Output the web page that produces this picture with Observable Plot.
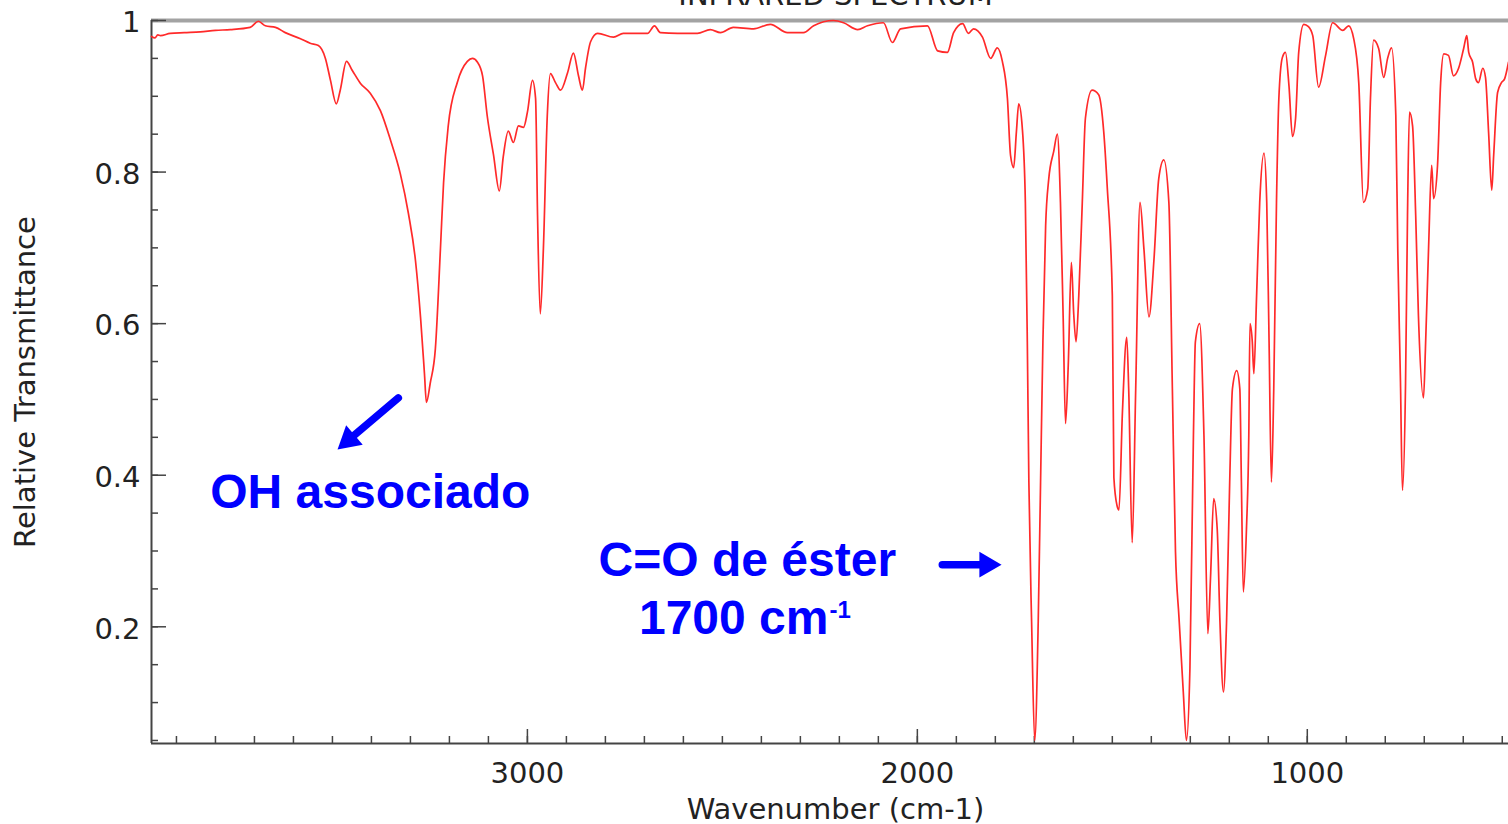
<!DOCTYPE html>
<html>
<head>
<meta charset="utf-8">
<script src="https://cdn.jsdelivr.net/npm/d3@7"></script>
<script src="https://cdn.jsdelivr.net/npm/@observablehq/plot@0.6"></script>
<style>
  html, body { margin: 0; padding: 0; background: #fff; overflow: hidden; }
  #chart svg { display: block; }
  #chart svg text.dv { letter-spacing: 0.6px; }
</style>
</head>
<body>
<div id="chart"></div>
<script>
// ---- Data ----
const wavenumber = [3964,3955,3948,3941,3916,3880,3839,3800,3762,3711,3690,3672,3646,3621,3582,3557,3536,3518,3505,3490,3480,3464,3449,3428,3403,3377,3351,3326,3305,3287,3274,3264,3259,3249,3236,3223,3215,3203,3180,3154,3141,3128,3115,3103,3087,3072,3062,3049,3036,3023,3010,3000,2987,2979,2974,2967,2959,2949,2941,2928,2915,2897,2882,2869,2859,2851,2838,2820,2779,2754,2692,2674,2659,2615,2564,2531,2505,2472,2420,2377,2333,2292,2266,2215,2189,2153,2128,2087,2064,2043,1974,1948,1923,1907,1884,1869,1856,1833,1812,1795,1782,1769,1761,1753,1746,1740,1731,1723,1718,1714,1707,1699,1690,1684,1678,1671,1663,1650,1641,1633,1626,1620,1613,1605,1599,1593,1586,1577,1569,1552,1535,1522,1513,1500,1496,1488,1483,1474,1463,1458,1449,1440,1429,1419,1406,1393,1381,1368,1355,1346,1338,1329,1318,1310,1301,1292,1287,1276,1265,1255,1248,1240,1231,1224,1215,1207,1199,1192,1181,1173,1169,1164,1156,1150,1147,1141,1137,1130,1122,1111,1104,1098,1092,1086,1079,1073,1064,1056,1047,1038,1030,1022,1009,997,986,971,953,935,909,894,881,868,856,845,838,830,817,804,794,784,773,768,761,756,748,743,738,730,722,715,702,697,689,681,676,666,658,650,638,625,612,599,591,586,576,568,561,550,543,535,527,522,512,502,494,484];
const transmittance = [0.979,0.977,0.981,0.980,0.983,0.984,0.985,0.987,0.988,0.991,0.999,0.993,0.991,0.984,0.976,0.970,0.967,0.950,0.921,0.890,0.908,0.946,0.934,0.917,0.904,0.881,0.842,0.798,0.745,0.683,0.608,0.534,0.496,0.522,0.567,0.699,0.786,0.861,0.918,0.946,0.950,0.945,0.927,0.874,0.823,0.775,0.820,0.854,0.839,0.861,0.859,0.879,0.921,0.897,0.743,0.613,0.699,0.875,0.930,0.918,0.908,0.931,0.957,0.927,0.908,0.937,0.972,0.983,0.978,0.983,0.983,0.993,0.984,0.983,0.983,0.988,0.984,0.991,0.989,0.995,0.984,0.984,0.993,1.000,0.997,0.988,0.993,0.997,0.971,0.989,0.993,0.960,0.958,0.984,0.996,0.983,0.989,0.978,0.950,0.964,0.946,0.897,0.822,0.806,0.853,0.890,0.859,0.760,0.576,0.391,0.207,0.050,0.207,0.391,0.576,0.729,0.791,0.828,0.850,0.760,0.607,0.468,0.545,0.681,0.613,0.576,0.637,0.760,0.871,0.908,0.902,0.853,0.780,0.637,0.397,0.360,0.354,0.484,0.582,0.514,0.311,0.514,0.760,0.699,0.609,0.686,0.791,0.816,0.760,0.514,0.299,0.212,0.114,0.050,0.145,0.452,0.576,0.600,0.452,0.191,0.267,0.369,0.329,0.207,0.114,0.207,0.391,0.514,0.538,0.514,0.391,0.246,0.329,0.452,0.600,0.576,0.534,0.637,0.760,0.825,0.760,0.576,0.391,0.514,0.760,0.896,0.951,0.958,0.914,0.847,0.871,0.958,0.995,0.992,0.980,0.912,0.954,0.997,0.987,0.993,0.976,0.918,0.760,0.778,0.897,0.974,0.963,0.925,0.950,0.964,0.875,0.699,0.522,0.380,0.522,0.743,0.879,0.861,0.743,0.611,0.502,0.567,0.699,0.809,0.765,0.809,0.918,0.956,0.954,0.927,0.937,0.963,0.980,0.958,0.945,0.923,0.918,0.937,0.925,0.852,0.776,0.822,0.905,0.918,0.923,0.945];

const xDomain = [3964, 484];
const yDomain = [0.046, 1];
const xMajorTicks = [3000, 2000, 1000];
const xMinorTicks = [3900,3800,3700,3600,3500,3400,3300,3200,3100,3000,2900,2800,2700,2600,2500,2400,2300,2200,2100,2000,1900,1800,1700,1600,1500,1400,1300,1200,1100,1000,900,800,700,600,500];
const yMajorTicks = [0.2, 0.4, 0.6, 0.8, 1];
const yMinorTicks = [0.05,0.1,0.15,0.2,0.25,0.3,0.35,0.4,0.45,0.5,0.55,0.6,0.65,0.7,0.75,0.8,0.85,0.9,0.95,1];

const titleText = "INFRARED SPECTRUM";
const xLabel = "Wavenumber (cm-1)";
const yLabel = "Relative Transmittance";

// annotations (data coordinates)
const noteText = ["OH associado", "C=O de éster"];
const noteWavenumber = [3403, 2436];
const noteTransmittance = [0.357, 0.267];
const unitText = ["1700 cm"];
const unitWavenumber = [2228];
const unitTransmittance = [0.191];
const supText = ["-1"];
const supWavenumber = [2228];
const supTransmittance = [0.211];
// arrows: start (x1,y1) -> tip (x2,y2)
const arrowX1 = [3331, 1936];
const arrowY1 = [0.502, 0.282];
const arrowX2 = [3487, 1784];
const arrowY2 = [0.434, 0.282];

// ---- Build ----
const W = 1508, H = 824;
const mL = 151, mR = 0, mT = 20, mB = 81;
const plotW = W - mL - mR;
const plotH = H - mT - mB;

const spectrum = wavenumber.map((w, i) => ({w, t: transmittance[i]}));
const notes = noteText.map((s, i) => ({s, w: noteWavenumber[i], t: noteTransmittance[i]}));
const units = unitText.map((s, i) => ({s, w: unitWavenumber[i], t: unitTransmittance[i]}));
const sups = supText.map((s, i) => ({s, w: supWavenumber[i], t: supTransmittance[i]}));
const arrows = arrowX1.map((x1, i) => ({x1, y1: arrowY1[i], x2: arrowX2[i], y2: arrowY2[i]}));

const BLUE = "#0000ff";
const AXIS = "#444";
const annFont = "'Liberation Sans', Arial, Helvetica, sans-serif";

const chart = Plot.plot({
  width: W,
  height: H,
  marginLeft: mL,
  marginRight: mR,
  marginTop: mT,
  marginBottom: mB,
  x: {domain: xDomain, axis: null},
  y: {domain: yDomain, axis: null},
  style: {fontFamily: "'DejaVu Sans', sans-serif", fontSize: "29px", color: "#222", background: "#fff"},
  marks: [
    // frame
    Plot.ruleY([yDomain[1]], {stroke: "#a3a3a3", strokeWidth: 4}),
    Plot.ruleX([xDomain[0]], {stroke: AXIS, strokeWidth: 2}),
    Plot.ruleY([yDomain[0]], {stroke: AXIS, strokeWidth: 2}),
    // inward ticks
    Plot.ruleY(yMinorTicks, {stroke: AXIS, strokeWidth: 1.5, insetRight: plotW - 7}),
    Plot.ruleY(yMajorTicks, {stroke: AXIS, strokeWidth: 1.5, insetRight: plotW - 15}),
    Plot.ruleX(xMinorTicks, {stroke: AXIS, strokeWidth: 1.5, insetTop: plotH - 7}),
    Plot.ruleX(xMajorTicks, {stroke: AXIS, strokeWidth: 1.5, insetTop: plotH - 14}),
    // tick labels
    Plot.text(yMajorTicks, {y: d => d, text: d => String(d), frameAnchor: "left", dx: -11, dy: 2.5, textAnchor: "end", lineAnchor: "middle", fill: "#222", className: "dv"}),
    Plot.text(xMajorTicks, {x: d => d, text: d => String(d), frameAnchor: "bottom", dy: 19, lineAnchor: "top", fill: "#222", className: "dv"}),
    // axis labels and title
    Plot.text([xLabel], {text: d => d, frameAnchor: "bottom", dx: 5.5, dy: 75, lineAnchor: "bottom", textAnchor: "middle", fill: "#222", className: "dv"}),
    Plot.text([yLabel], {text: d => d, frameAnchor: "left", dx: -126, rotate: -90, textAnchor: "middle", lineAnchor: "middle", fill: "#222", className: "dv"}),
    Plot.text([titleText], {text: d => d, frameAnchor: "top", dx: 5.5, dy: -16, lineAnchor: "bottom", textAnchor: "middle", fill: "#222"}),
    // spectrum
    Plot.line(spectrum, {x: "w", y: "t", stroke: "#ff2a2a", strokeWidth: 1.7, curve: "monotone-x"}),
    // annotations
    Plot.text(notes, {x: "w", y: "t", text: "s", textAnchor: "middle", lineAnchor: "bottom", fill: BLUE, fontFamily: annFont, fontWeight: "bold", fontSize: 48}),
    Plot.text(units, {x: "w", y: "t", text: "s", textAnchor: "end", lineAnchor: "bottom", fill: BLUE, fontFamily: annFont, fontWeight: "bold", fontSize: 48}),
    Plot.text(sups, {x: "w", y: "t", text: "s", textAnchor: "start", lineAnchor: "bottom", dx: 1, fill: BLUE, fontFamily: annFont, fontWeight: "bold", fontSize: 24}),
    Plot.arrow(arrows, {x1: "x1", y1: "y1", x2: "x2", y2: "y2", stroke: BLUE, strokeWidth: 7.5, headLength: 0, insetEnd: 12}),
    Plot.dot([arrows[0]], {x: "x2", y: "y2", symbol: "triangle", r: 9.5, fill: BLUE, stroke: "none", rotate: 229.6, dx: 11.3, dy: -9.6}),
    Plot.dot([arrows[1]], {x: "x2", y: "y2", symbol: "triangle", r: 9.5, fill: BLUE, stroke: "none", rotate: 90, dx: -14.8, dy: 0})
  ]
});

document.getElementById("chart").appendChild(chart);
</script>
</body>
</html>
